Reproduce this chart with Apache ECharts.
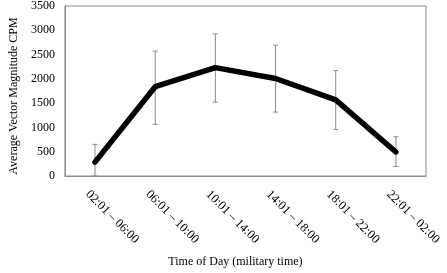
<!DOCTYPE html>
<html>
<head>
<meta charset="utf-8">
<script src="https://cdn.jsdelivr.net/npm/echarts@6/dist/echarts.min.js"></script>
<style>
  html, body { margin: 0; padding: 0; background: #fff; }
  #chart { width: 447px; height: 273px; }
</style>
</head>
<body>
<div id="chart"></div>
<script>
const timeSlots = ['02:01 – 06:00', '06:01 – 10:00', '10:01 – 14:00', '14:01 – 18:00', '18:01 – 22:00', '22:01 – 02:00'];
const meanCpm = [285, 1838, 2232, 2008, 1567, 495];
const errLow = [0, 1064, 1520, 1316, 956, 197];
const errHigh = [651, 2570, 2924, 2692, 2171, 808];

const serif = '"Liberation Serif", "Times New Roman", serif';
const chart = echarts.init(document.getElementById('chart'));

chart.setOption({
    animation: false,
    grid: {
        left: 61, right: 21, top: 6, bottom: 95,
        show: true, borderColor: '#8c8c8c', borderWidth: 1
    },
    xAxis: {
        type: 'category',
        data: timeSlots,
        name: 'Time of Day (military time)',
        nameLocation: 'middle',
        nameGap: 80,
        nameTextStyle: { fontFamily: serif, fontSize: 12, color: '#000', padding: [0, 20, 0, 0] },
        axisLine: { lineStyle: { color: '#8c8c8c' } },
        axisTick: { show: false },
        axisLabel: {
            rotate: -45, margin: 9, interval: 0,
            verticalAlign: 'top', padding: [4, 0, 0, 0],
            fontFamily: serif, fontSize: 12.5, color: '#000'
        }
    },
    yAxis: {
        type: 'value',
        min: 0, max: 3500, interval: 500,
        name: 'Average Vector Magnitude CPM',
        nameLocation: 'middle',
        nameGap: 44,
        nameTextStyle: { fontFamily: serif, fontSize: 12, color: '#000', padding: [0, 10, 0, 0] },
        axisLine: { show: true, lineStyle: { color: '#8c8c8c' } },
        axisTick: { show: false },
        splitLine: { show: false },
        axisLabel: { margin: 10, fontFamily: serif, fontSize: 12, color: '#000', formatter: v => String(v) }
    },
    series: [
        {
            type: 'custom',
            data: timeSlots.map((c, i) => [i, errLow[i], errHigh[i]]),
            z: 1,
            renderItem: function (params, api) {
                const lo = api.coord([api.value(0), api.value(1)]);
                const hi = api.coord([api.value(0), api.value(2)]);
                const w = 2.5;
                const style = { stroke: '#8a8a8a', lineWidth: 1 };
                return {
                    type: 'group',
                    children: [
                        { type: 'line', shape: { x1: lo[0], y1: lo[1], x2: hi[0], y2: hi[1] }, style: style },
                        { type: 'line', shape: { x1: lo[0] - w, y1: lo[1], x2: lo[0] + w, y2: lo[1] }, style: style },
                        { type: 'line', shape: { x1: hi[0] - w, y1: hi[1], x2: hi[0] + w, y2: hi[1] }, style: style }
                    ]
                };
            }
        },
        {
            type: 'line',
            data: meanCpm,
            z: 2,
            symbol: 'none',
            lineStyle: { color: '#000', width: 5.5, cap: 'round', join: 'round' }
        }
    ]
});
</script>
</body>
</html>
